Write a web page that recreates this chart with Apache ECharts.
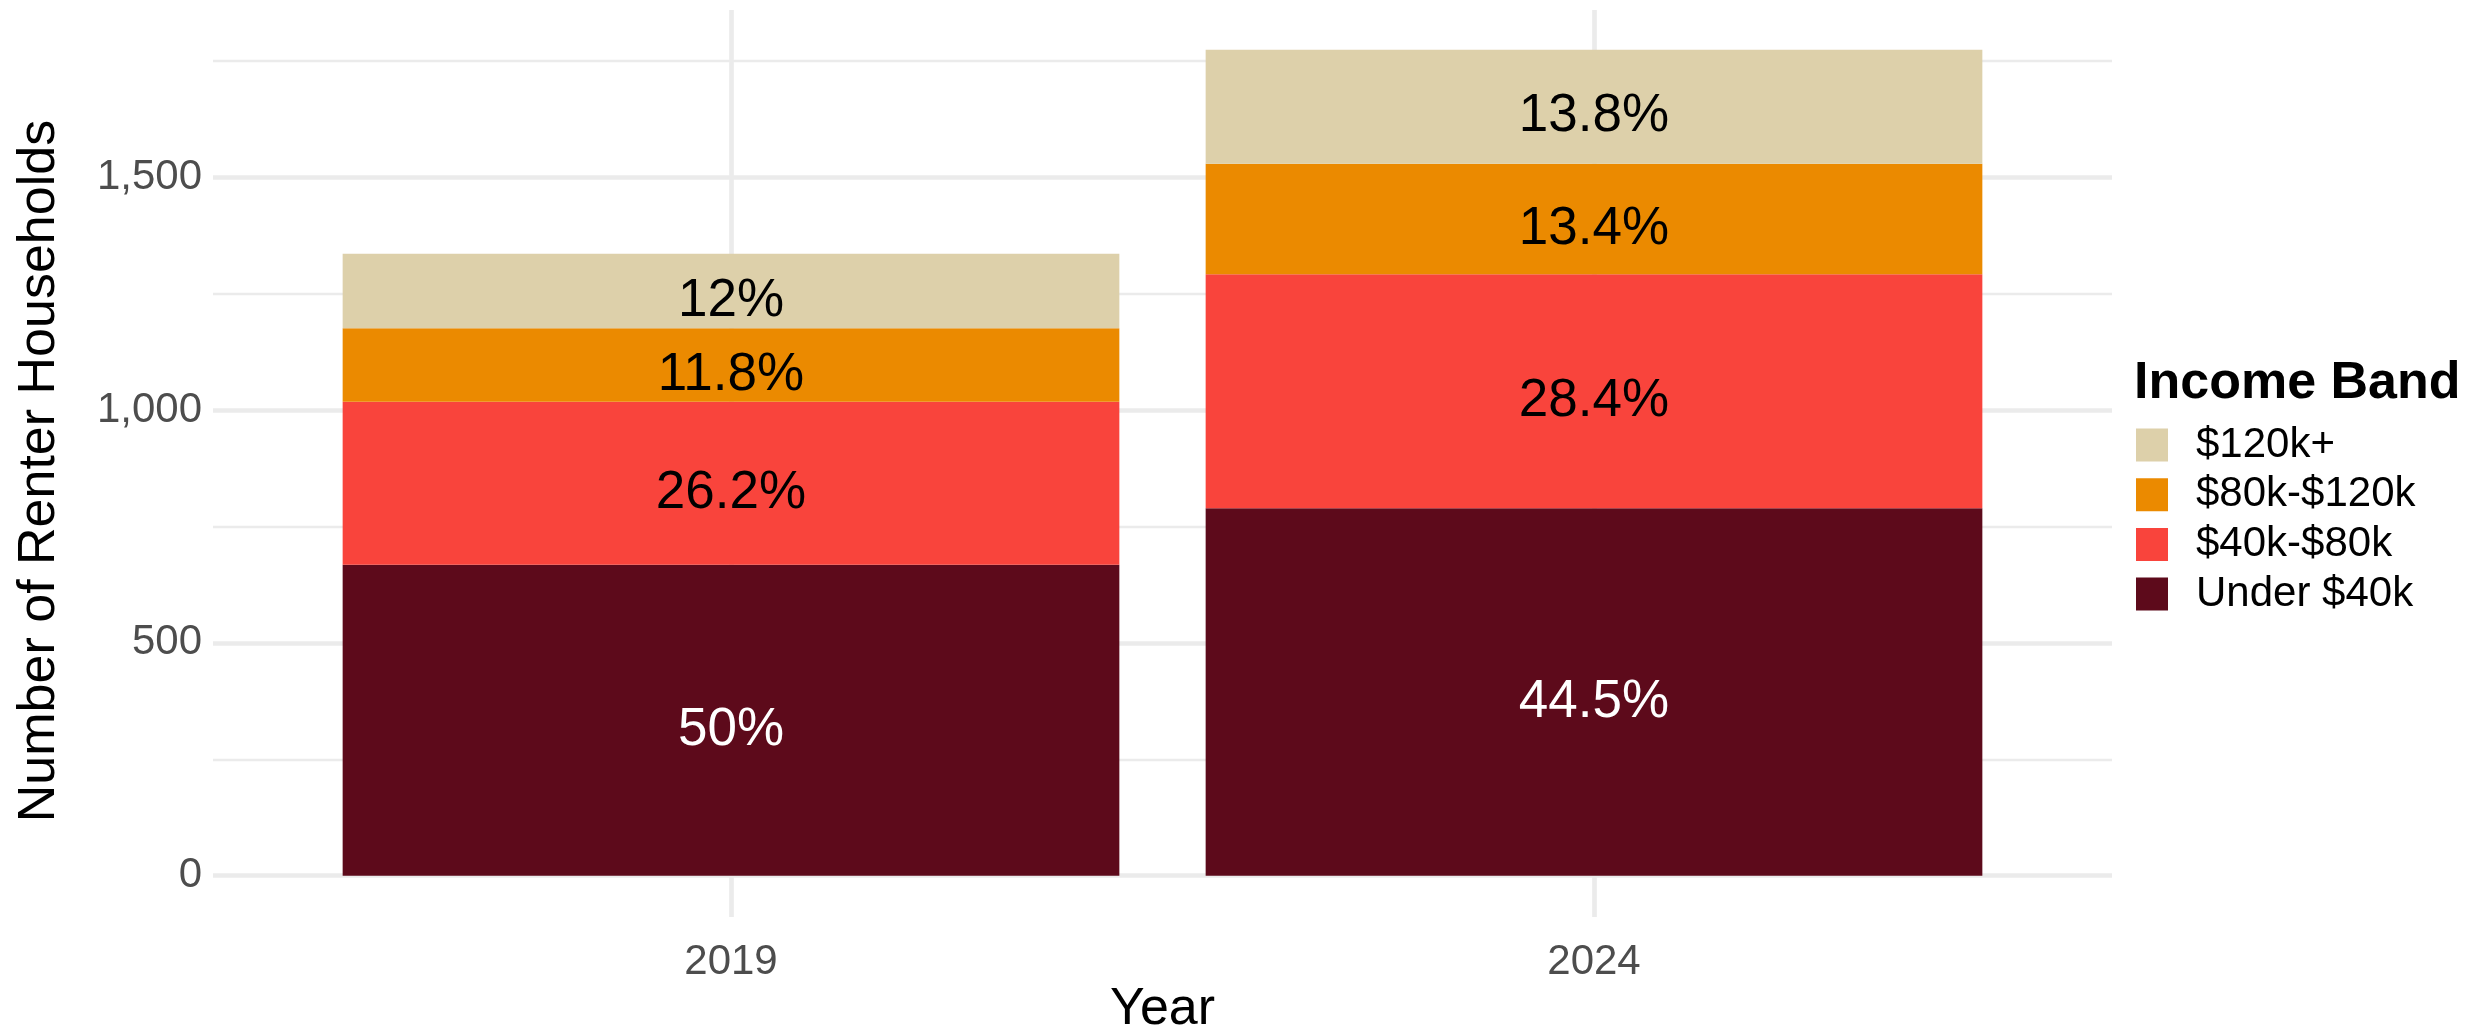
<!DOCTYPE html>
<html>
<head>
<meta charset="utf-8">
<title>Renter Households by Income Band</title>
<script src="https://cdn.jsdelivr.net/npm/echarts@6/dist/echarts.min.js"></script>
<style>
  html, body { margin: 0; padding: 0; background: #ffffff; }
  #chart { width: 2483px; height: 1035px; }
</style>
</head>
<body>
<div id="chart"></div>
<script>
// Survey years shown on the x axis
const years = ['2019', '2024'];

// Renter households per income band (bottom of the stack first)
const under40k = [668, 789];
const band40to80 = [350, 503];
const band80to120 = [158, 237];
const over120k = [160, 245];

// Y-axis tick values (major) and the minor gridline values between them
const yTicks = [0, 500, 1000, 1500];
const yMinor = [250, 750, 1250, 1750];

const bandNames = ['Under $40k', '$40k-$80k', '$80k-$120k', '$120k+'];
const bandValues = [under40k, band40to80, band80to120, over120k];
const bandColors = ['#5D0A1B', '#F9443C', '#EB8A00', '#DDD0AA'];
const labelColors = ['#ffffff', '#000000', '#000000', '#000000'];

const totals = years.map((_, i) => bandValues.reduce((s, arr) => s + arr[i], 0));

function pctLabel(value, i) {
  const p = Math.round(value / totals[i] * 1000) / 10;
  return (Number.isInteger(p) ? p.toFixed(0) : p.toFixed(1)) + '%';
}

const FONT = '"Liberation Sans", Arial, Helvetica, sans-serif';
const GRID_COLOR = '#EBEBEB';
const MAJOR_W = 4.7, MINOR_W = 2.3;

// Panel geometry
const panelLeft = 213, panelRight = 2112, panelTop = 10, panelBottom = 917;
const zeroY = 875.7;                  // pixel row of value 0
const pxPerUnit = 232.8 / 500;        // pixels per household
const yPix = (v) => zeroY - v * pxPerUnit;
const panelMaxValue = (zeroY - panelTop) / pxPerUnit;
const center0 = 731, center1 = 1594;  // category centres
const band = center1 - center0;

const chart = echarts.init(document.getElementById('chart'), null, { renderer: 'canvas' });

const series = bandNames.map((name, k) => ({
  name: name,
  type: 'bar',
  stack: 'total',
  xAxisIndex: 4,
  yAxisIndex: 4,
  barWidth: '90%',
  itemStyle: { color: bandColors[k] },
  label: {
    show: true,
    position: 'inside',
    offset: [0, 10],
    color: labelColors[k],
    fontFamily: FONT,
    fontSize: 53,
    formatter: (p) => pctLabel(p.value, p.dataIndex)
  },
  emphasis: { disabled: true },
  data: bandValues[k]
}));

const hiddenAxis = (gridIndex, extra) => Object.assign({
  gridIndex: gridIndex, type: 'value', min: 0, max: 1,
  axisLine: { show: false }, axisTick: { show: false }, axisLabel: { show: false }, splitLine: { show: false }
}, extra || {});

const gridBox = (left, top, width, height) => ({ left, top, width, height, outerBoundsMode: 'none' });

chart.setOption({
  animation: false,
  backgroundColor: '#ffffff',
  textStyle: { fontFamily: FONT },
  title: {
    text: 'Income Band',
    left: 2134,
    top: 358,
    padding: 0,
    textStyle: { fontFamily: FONT, fontSize: 52, fontWeight: 'bold', color: '#000000', lineHeight: 52 }
  },
  legend: {
    orient: 'vertical',
    left: 2136,
    top: 424,
    padding: 0,
    itemWidth: 32,
    itemHeight: 33,
    itemGap: 7.7,
    icon: 'rect',
    selectedMode: false,
    data: ['$120k+', '$80k-$120k', '$40k-$80k', 'Under $40k'],
    textStyle: { fontFamily: FONT, fontSize: 42, color: '#000000', lineHeight: 33, padding: [0, 0, 0, 23] }
  },
  grid: [
    // frame for the axis titles
    gridBox(panelLeft, 25, panelRight - panelLeft, panelBottom - 25),
    // major horizontal gridlines and y labels
    gridBox(panelLeft, yPix(yTicks[yTicks.length - 1]), panelRight - panelLeft,
      yPix(yTicks[0]) - yPix(yTicks[yTicks.length - 1])),
    // minor horizontal gridlines
    gridBox(panelLeft, yPix(yMinor[yMinor.length - 1]), panelRight - panelLeft,
      yPix(yMinor[0]) - yPix(yMinor[yMinor.length - 1])),
    // vertical gridlines and year labels
    gridBox(center0, panelTop, band, panelBottom - panelTop),
    // bars
    gridBox(center0 - band / 2, panelTop, band * 2, zeroY - panelTop)
  ],
  xAxis: [
    hiddenAxis(0, {
      name: 'Year', nameLocation: 'middle', nameGap: 78,
      nameTextStyle: { fontFamily: FONT, fontSize: 52, color: '#000000', lineHeight: 30 }
    }),
    hiddenAxis(1),
    hiddenAxis(2),
    {
      gridIndex: 3, type: 'value', min: 0, max: 1, interval: 1,
      axisLine: { show: false }, axisTick: { show: false },
      axisLabel: {
        show: true, margin: 24, color: '#4D4D4D', fontFamily: FONT, fontSize: 42,
        formatter: (v) => years[Math.round(v)] || ''
      },
      splitLine: { show: true, lineStyle: { color: GRID_COLOR, width: MAJOR_W } }
    },
    { gridIndex: 4, type: 'category', data: years, show: false }
  ],
  yAxis: [
    hiddenAxis(0, {
      name: 'Number of Renter Households', nameLocation: 'middle', nameGap: 147,
      nameTextStyle: { fontFamily: FONT, fontSize: 52, color: '#000000', lineHeight: 52 }
    }),
    {
      gridIndex: 1, type: 'value', min: yTicks[0], max: yTicks[yTicks.length - 1], interval: yTicks[1] - yTicks[0],
      axisLine: { show: false }, axisTick: { show: false },
      axisLabel: {
        margin: 11, color: '#4D4D4D', fontFamily: FONT, fontSize: 42,
        formatter: (v) => v.toLocaleString('en-US')
      },
      splitLine: { show: true, lineStyle: { color: GRID_COLOR, width: MAJOR_W } }
    },
    {
      gridIndex: 2, type: 'value', min: yMinor[0], max: yMinor[yMinor.length - 1], interval: yMinor[1] - yMinor[0],
      axisLine: { show: false }, axisTick: { show: false }, axisLabel: { show: false },
      splitLine: { show: true, lineStyle: { color: GRID_COLOR, width: MINOR_W } }
    },
    hiddenAxis(3),
    { gridIndex: 4, type: 'value', min: 0, max: panelMaxValue, show: false }
  ],
  series: series
});
</script>
</body>
</html>
